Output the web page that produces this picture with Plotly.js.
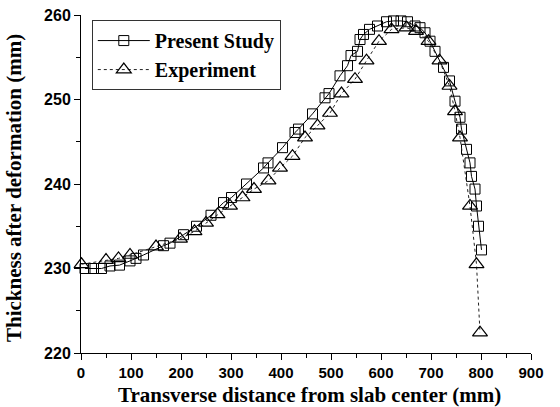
<!DOCTYPE html>
<html>
<head>
<meta charset="utf-8">
<script src="https://cdn.plot.ly/plotly-3.0.1.min.js"></script>
<style>html,body{margin:0;padding:0;background:#fff;}#chart{width:560px;height:407px;}</style>
</head>
<body>
<div id="chart"></div>
<script>
const studyX = [8,25,41,58,77,98,110,125,165,178,205,231,260,285,301,331,365,374,403,428,435,463,488,496,518,533,540,553,558,565,577,593,611,625,640,653,668,678,688,698,708,725,737,748,758,761,771,778,781,788,791,795,801];
const studyY = [230.0,230.0,230.0,230.3,230.4,230.9,231.2,231.6,232.7,233.0,234.0,235.0,236.3,237.8,238.4,240.0,241.9,242.5,244.3,246.1,246.5,248.3,250.2,250.7,252.8,254.0,255.2,255.7,257.1,257.7,258.3,258.7,259.2,259.3,259.3,259.2,258.7,258.5,257.9,256.9,255.7,253.8,252.2,249.8,247.9,246.5,244.1,242.5,240.9,239.4,237.4,235.0,232.2];
const expX = [1,50,75,98,150,198,227,250,273,298,323,346,375,398,423,448,473,498,521,548,571,596,621,651,670,695,717,737,748,758,778,791,798];
const expY = [230.5,231.0,231.2,231.6,232.6,233.5,234.4,235.4,236.4,237.4,238.4,239.4,240.4,241.9,243.3,245.5,246.9,248.4,250.7,252.4,254.6,256.9,258.3,258.5,258.1,256.9,254.6,251.6,248.6,245.5,237.4,230.5,222.4];
const xTicks = [0,100,200,300,400,500,600,700,800,900];
const yTicks = [220,230,240,250,260];
const xTitle = 'Transverse distance from slab center (mm)';
const yTitle = 'Thickness after deformation (mm)';

const traces = [
  {x: studyX, y: studyY, name: 'Present Study', mode: 'lines+markers', cliponaxis: false,
   line: {color: '#000', width: 1},
   marker: {symbol: 'square-open', size: 10, color: '#000', line: {width: 1, color: '#000'}}},
  {x: expX, y: expY, name: 'Experiment', mode: 'lines+markers', cliponaxis: false,
   line: {color: '#222', width: 1, dash: 'dot'},
   marker: {symbol: 'triangle-up-open', size: 13, color: '#000', line: {width: 1.2, color: '#000'}}}
];

const xTickFont = {family: '"Liberation Sans", Arial, sans-serif', size: 15, color: '#000', weight: 'bold'};
const yTickFont = {family: '"Liberation Sans", Arial, sans-serif', size: 16, color: '#000', weight: 'bold'};
const titleFont = {family: '"Liberation Serif", "Times New Roman", serif', size: 21, color: '#000', weight: 'bold'};

const layout = {
  width: 560, height: 407,
  margin: {l: 81, r: 29, t: 15, b: 54},
  paper_bgcolor: '#fff', plot_bgcolor: '#fff',
  showlegend: true,
  legend: {x: 0.024, y: 0.985, xanchor: 'left', yanchor: 'top',
    bgcolor: '#fff', bordercolor: '#333', borderwidth: 1,
    font: {family: '"Liberation Serif", "Times New Roman", serif', size: 20, color: '#000', weight: 'bold'},
    itemwidth: 52, tracegroupgap: 0},
  xaxis: {range: [0, 900], tickvals: xTicks, ticktext: xTicks.map(String),
    showgrid: false, zeroline: false, showline: true, linecolor: '#000', linewidth: 1,
    ticks: 'outside', ticklen: 6, tickcolor: '#000', tickfont: xTickFont,
    minor: {dtick: 50, ticks: 'outside', ticklen: 4, tickcolor: '#000', showgrid: false}},
  yaxis: {range: [220, 260], tickvals: yTicks, ticktext: yTicks.map(String),
    showgrid: false, zeroline: false, showline: true, linecolor: '#000', linewidth: 1,
    ticks: 'outside', ticklen: 6, tickcolor: '#000', tickfont: yTickFont,
    minor: {dtick: 5, ticks: 'outside', ticklen: 4, tickcolor: '#000', showgrid: false}},
  annotations: [
    {text: xTitle, xref: 'paper', yref: 'paper', x: 0.507, y: -0.125, xanchor: 'center', yanchor: 'middle',
     showarrow: false, font: titleFont},
    {text: yTitle, xref: 'paper', yref: 'paper', x: -0.149, y: 0.488, xanchor: 'center', yanchor: 'middle',
     textangle: -90, showarrow: false, font: titleFont}
  ]
};

Plotly.newPlot('chart', traces, layout, {displayModeBar: false, staticPlot: true});
</script>
</body>
</html>
